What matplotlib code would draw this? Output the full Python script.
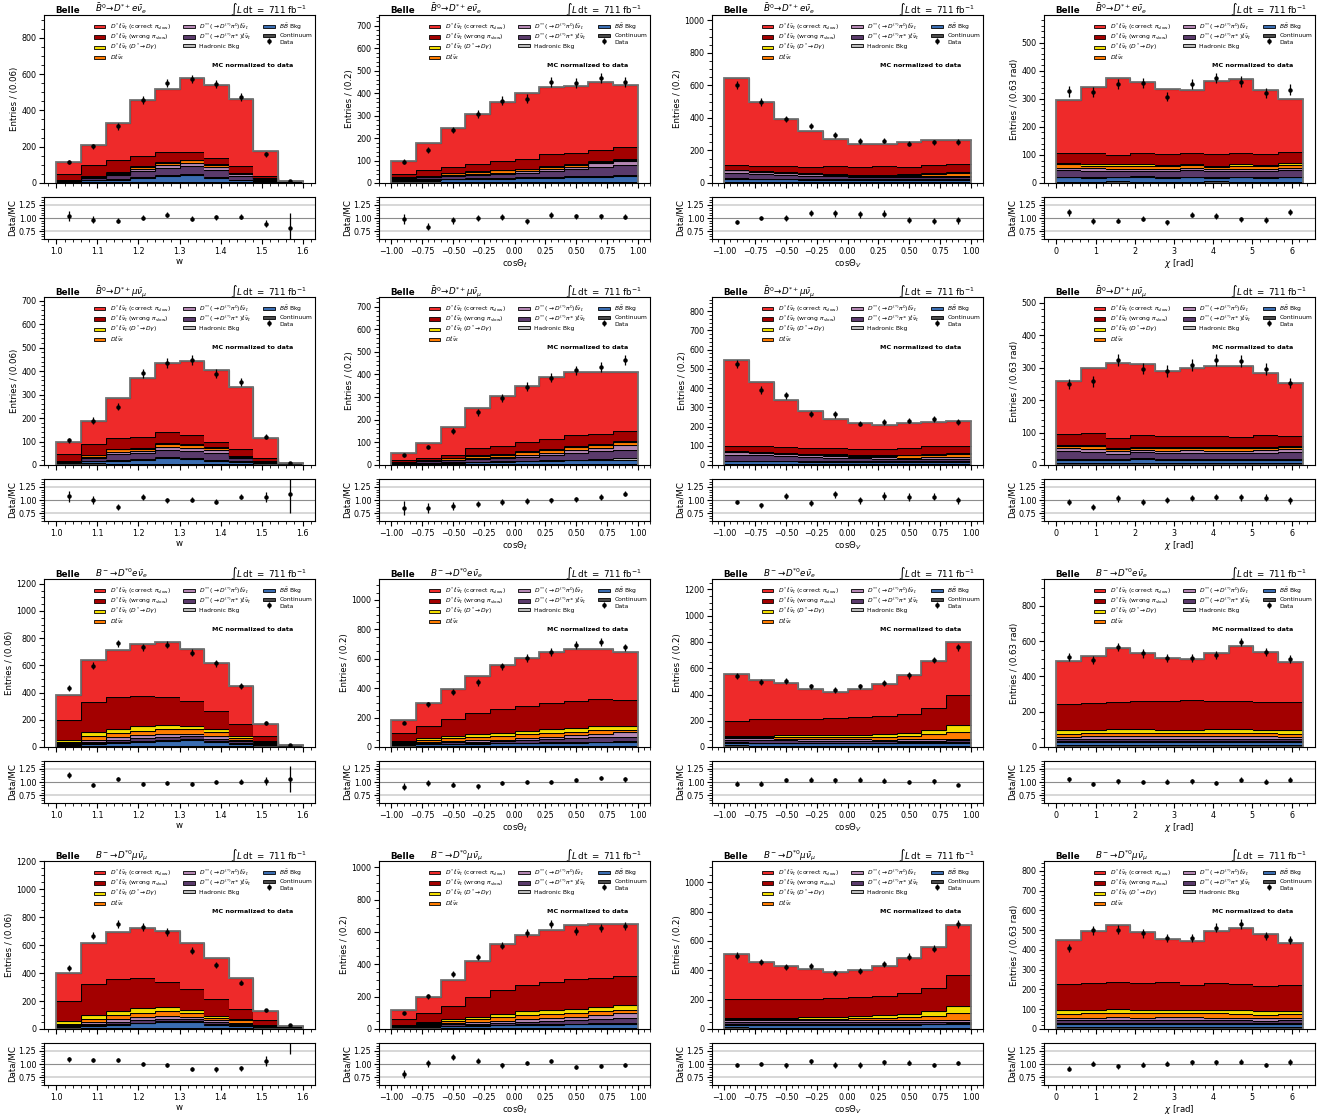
import numpy as np
import matplotlib.pyplot as plt
from matplotlib.patches import Patch, Rectangle
from matplotlib.legend_handler import HandlerPatch
from matplotlib.ticker import AutoMinorLocator, MultipleLocator, FormatStrFormatter

#%% binning of the four kinematic variables
w_edges = np.linspace(1.0, 1.6, 11)
cos_edges = np.linspace(-1.0, 1.0, 11)
chi_edges = np.linspace(0.0, 2 * np.pi, 11)

#%% B0 -> D*+ e nu
b0e_w_data = [118, 203, 312, 456, 550, 572, 545, 473, 157, 9]
b0e_w_corr = [63, 110, 201, 305, 348, 409, 399, 367, 139, 0]
b0e_w_wrong = [32, 59, 68, 58, 53, 42, 33, 38, 9, 0]
b0e_w_dgam = [0, 1, 2, 4, 4, 3, 4, 2, 1, 0]
b0e_w_dlnu = [1, 5, 6, 12, 14, 15, 15, 8, 5, 0]
b0e_w_dss0 = [1, 4, 6, 10, 14, 15, 14, 8, 3, 0]
b0e_w_dssc = [3, 14, 24, 35, 42, 45, 40, 20, 6, 1]
b0e_w_had = [1, 2, 3, 4, 5, 5, 5, 4, 3, 1]
b0e_w_bb = [4, 8, 12, 22, 32, 38, 22, 10, 4, 1]
b0e_w_cont = [8, 6, 6, 5, 5, 6, 5, 5, 6, 8]

b0e_cl_data = [95, 148, 236, 306, 367, 376, 450, 446, 468, 450]
b0e_cl_corr = [59, 119, 174, 221, 259, 293, 297, 298, 305, 276]
b0e_cl_wrong = [13, 26, 28, 33, 42, 46, 54, 50, 47, 54]
b0e_cl_dgam = [0, 1, 2, 2, 2, 2, 3, 4, 5, 4]
b0e_cl_dlnu = [2, 3, 8, 10, 10, 9, 9, 8, 7, 5]
b0e_cl_dss0 = [2, 3, 4, 5, 6, 7, 10, 12, 16, 20]
b0e_cl_dssc = [5, 8, 12, 14, 17, 20, 26, 32, 40, 45]
b0e_cl_had = [2, 2, 3, 3, 3, 3, 3, 3, 4, 4]
b0e_cl_bb = [6, 8, 10, 12, 14, 16, 18, 20, 22, 24]
b0e_cl_cont = [8, 7, 6, 6, 6, 6, 6, 6, 6, 6]

b0e_cv_data = [600, 498, 394, 349, 296, 259, 261, 242, 250, 252]
b0e_cv_corr = [536, 394, 292, 224, 170, 146, 138, 152, 156, 148]
b0e_cv_wrong = [28, 32, 36, 36, 46, 44, 52, 45, 48, 48]
b0e_cv_dgam = [2, 2, 2, 2, 3, 3, 4, 4, 5, 7]
b0e_cv_dlnu = [2, 3, 3, 4, 5, 6, 8, 11, 16, 20]
b0e_cv_dss0 = [14, 12, 11, 10, 8, 7, 6, 6, 6, 6]
b0e_cv_dssc = [34, 28, 24, 20, 17, 14, 12, 12, 12, 12]
b0e_cv_had = [4, 3, 3, 3, 3, 3, 3, 3, 3, 3]
b0e_cv_bb = [18, 17, 16, 15, 14, 13, 13, 13, 14, 14]
b0e_cv_cont = [8, 7, 7, 6, 6, 6, 6, 6, 6, 6]

b0e_chi_data = [326, 324, 353, 356, 308, 353, 374, 361, 321, 333]
b0e_chi_corr = [188, 235, 273, 253, 232, 223, 259, 262, 230, 188]
b0e_chi_wrong = [37, 39, 34, 41, 40, 40, 41, 42, 39, 41]
b0e_chi_dgam = [4, 6, 5, 5, 4, 4, 4, 5, 5, 5]
b0e_chi_dlnu = [11, 10, 10, 10, 9, 9, 9, 10, 9, 10]
b0e_chi_dss0 = [10, 9, 8, 8, 9, 10, 8, 8, 8, 10]
b0e_chi_dssc = [22, 21, 20, 19, 20, 22, 19, 20, 20, 22]
b0e_chi_had = [3, 3, 3, 3, 3, 3, 3, 3, 3, 3]
b0e_chi_bb = [15, 14, 14, 16, 14, 15, 13, 15, 14, 15]
b0e_chi_cont = [5, 5, 6, 5, 5, 5, 6, 5, 5, 5]

#%% B0 -> D*+ mu nu
b0mu_w_data = [106, 189, 249, 390, 433, 447, 389, 353, 120, 10]
b0mu_w_corr = [52, 99, 171, 248, 297, 314, 307, 265, 85, 0]
b0mu_w_wrong = [28, 47, 47, 48, 46, 40, 20, 27, 10, 0]
b0mu_w_dgam = [0, 1, 3, 3, 3, 4, 2, 1, 0, 0]
b0mu_w_dlnu = [1, 6, 9, 9, 12, 12, 12, 4, 2, 0]
b0mu_w_dss0 = [1, 5, 10, 10, 13, 12, 11, 5, 1, 0]
b0mu_w_dssc = [3, 13, 25, 27, 32, 30, 28, 14, 4, 0]
b0mu_w_had = [1, 3, 4, 4, 5, 5, 5, 3, 2, 0]
b0mu_w_bb = [3, 8, 12, 14, 22, 20, 12, 6, 3, 1]
b0mu_w_cont = [10, 7, 6, 6, 6, 6, 6, 6, 7, 8]

b0mu_cl_data = [43, 81, 151, 233, 296, 346, 385, 418, 434, 464]
b0mu_cl_corr = [30, 63, 124, 176, 223, 251, 273, 280, 273, 262]
b0mu_cl_wrong = [6, 13, 16, 32, 36, 40, 43, 48, 45, 46]
b0mu_cl_dgam = [0, 0, 1, 2, 2, 3, 4, 5, 4, 4]
b0mu_cl_dlnu = [1, 2, 5, 10, 11, 12, 13, 14, 12, 11]
b0mu_cl_dss0 = [1, 2, 3, 4, 5, 8, 10, 13, 16, 22]
b0mu_cl_dssc = [3, 5, 8, 12, 14, 18, 24, 30, 34, 38]
b0mu_cl_had = [1, 1, 2, 2, 2, 3, 3, 3, 4, 6]
b0mu_cl_bb = [4, 5, 6, 8, 9, 11, 13, 15, 17, 19]
b0mu_cl_cont = [5, 5, 5, 5, 5, 5, 5, 5, 5, 5]

b0mu_cv_data = [525, 390, 363, 266, 263, 215, 224, 231, 239, 225]
b0mu_cv_corr = [446, 334, 247, 193, 149, 136, 123, 131, 128, 130]
b0mu_cv_wrong = [29, 32, 29, 29, 32, 30, 34, 34, 39, 34]
b0mu_cv_dgam = [2, 2, 2, 2, 2, 2, 3, 4, 5, 5]
b0mu_cv_dlnu = [2, 3, 3, 4, 5, 6, 8, 11, 13, 18]
b0mu_cv_dss0 = [14, 13, 12, 11, 10, 8, 7, 7, 7, 7]
b0mu_cv_dssc = [30, 28, 24, 22, 19, 16, 14, 13, 13, 13]
b0mu_cv_had = [3, 3, 3, 3, 3, 3, 3, 3, 3, 3]
b0mu_cv_bb = [14, 13, 13, 12, 12, 11, 11, 11, 12, 12]
b0mu_cv_cont = [6, 6, 6, 5, 5, 5, 5, 5, 5, 5]

b0mu_chi_data = [250, 258, 323, 297, 290, 309, 324, 321, 296, 252]
b0mu_chi_corr = [164, 201, 231, 219, 200, 210, 217, 219, 191, 163]
b0mu_chi_wrong = [32, 37, 30, 35, 35, 32, 34, 32, 35, 31]
b0mu_chi_dgam = [3, 3, 3, 3, 3, 3, 3, 3, 3, 3]
b0mu_chi_dlnu = [8, 8, 7, 8, 8, 8, 8, 8, 8, 8]
b0mu_chi_dss0 = [10, 9, 8, 7, 7, 8, 7, 7, 8, 8]
b0mu_chi_dssc = [22, 21, 18, 17, 18, 19, 19, 19, 20, 20]
b0mu_chi_had = [4, 4, 3, 3, 3, 3, 3, 3, 3, 4]
b0mu_chi_bb = [10, 10, 9, 14, 11, 10, 10, 10, 10, 10]
b0mu_chi_cont = [6, 6, 5, 5, 5, 5, 5, 5, 5, 6]

#%% B- -> D*0 e nu
bme_w_data = [432, 597, 762, 733, 752, 692, 616, 451, 175, 18]
bme_w_corr = [182, 308, 352, 386, 405, 386, 349, 277, 94, 0]
bme_w_wrong = [146, 219, 230, 221, 204, 184, 136, 92, 37, 0]
bme_w_dgam = [18, 28, 30, 32, 30, 23, 20, 12, 4, 0]
bme_w_dlnu = [8, 27, 33, 35, 38, 32, 30, 17, 8, 0]
bme_w_dss0 = [3, 14, 18, 22, 22, 20, 17, 10, 4, 1]
bme_w_dssc = [6, 14, 18, 20, 22, 22, 18, 12, 5, 1]
bme_w_had = [3, 4, 5, 6, 6, 6, 6, 5, 3, 1]
bme_w_bb = [5, 12, 20, 28, 35, 40, 28, 14, 5, 2]
bme_w_cont = [10, 10, 10, 10, 10, 10, 10, 10, 12, 12]

bme_cl_data = [166, 291, 375, 439, 550, 605, 645, 693, 714, 677]
bme_cl_corr = [89, 153, 202, 250, 300, 330, 346, 354, 339, 325]
bme_cl_wrong = [51, 84, 116, 139, 163, 168, 179, 182, 182, 177]
bme_cl_dgam = [6, 13, 17, 20, 20, 23, 26, 28, 30, 25]
bme_cl_dlnu = [6, 16, 22, 26, 27, 27, 27, 24, 22, 18]
bme_cl_dss0 = [2, 4, 6, 8, 10, 13, 18, 22, 26, 30]
bme_cl_dssc = [4, 6, 9, 12, 14, 16, 20, 24, 28, 30]
bme_cl_had = [2, 2, 3, 3, 3, 4, 4, 4, 5, 6]
bme_cl_bb = [8, 10, 12, 14, 16, 18, 20, 22, 24, 26]
bme_cl_cont = [14, 10, 8, 8, 8, 8, 8, 8, 8, 8]

bme_cv_data = [538, 495, 506, 462, 435, 462, 490, 545, 662, 760]
bme_cv_corr = [355, 300, 272, 229, 202, 219, 245, 290, 355, 400]
bme_cv_wrong = [115, 125, 127, 125, 128, 130, 135, 145, 170, 235]
bme_cv_dgam = [9, 11, 14, 16, 18, 20, 23, 26, 34, 52]
bme_cv_dlnu = [6, 8, 10, 12, 14, 16, 20, 26, 35, 50]
bme_cv_dss0 = [16, 15, 14, 13, 12, 12, 11, 11, 12, 12]
bme_cv_dssc = [18, 17, 16, 15, 14, 13, 12, 12, 12, 12]
bme_cv_had = [4, 4, 4, 4, 4, 4, 4, 4, 5, 5]
bme_cv_bb = [20, 20, 20, 20, 20, 20, 20, 21, 22, 24]
bme_cv_cont = [12, 10, 10, 10, 10, 10, 10, 10, 10, 10]

bme_chi_data = [510, 495, 565, 530, 505, 505, 520, 595, 540, 500]
bme_chi_corr = [241, 264, 304, 271, 241, 232, 269, 310, 281, 225]
bme_chi_wrong = [150, 152, 155, 160, 164, 167, 162, 160, 157, 160]
bme_chi_dgam = [19, 19, 19, 19, 19, 19, 19, 19, 19, 19]
bme_chi_dlnu = [17, 18, 19, 19, 18, 18, 19, 19, 18, 17]
bme_chi_dss0 = [13, 14, 14, 14, 14, 14, 14, 14, 14, 13]
bme_chi_dssc = [14, 15, 15, 15, 15, 15, 15, 15, 15, 14]
bme_chi_had = [4, 4, 4, 4, 4, 4, 4, 4, 4, 4]
bme_chi_bb = [18, 18, 19, 19, 18, 18, 19, 19, 18, 18]
bme_chi_cont = [10, 10, 10, 10, 10, 10, 10, 10, 10, 10]

#%% B- -> D*0 mu nu
bmmu_w_data = [436, 669, 752, 729, 695, 562, 460, 333, 133, 28]
bmmu_w_corr = [200, 300, 340, 364, 365, 329, 298, 219, 59, 0]
bmmu_w_wrong = [140, 217, 224, 210, 182, 157, 119, 73, 35, 0]
bmmu_w_dgam = [22, 30, 32, 34, 30, 20, 14, 8, 1, 0]
bmmu_w_dlnu = [8, 22, 30, 32, 32, 25, 20, 16, 4, 0]
bmmu_w_dss0 = [3, 12, 18, 22, 22, 18, 12, 10, 3, 1]
bmmu_w_dssc = [6, 12, 16, 18, 18, 16, 12, 10, 4, 1]
bmmu_w_had = [3, 4, 5, 6, 6, 6, 5, 4, 3, 1]
bmmu_w_bb = [6, 12, 20, 30, 40, 38, 22, 12, 5, 2]
bmmu_w_cont = [12, 10, 10, 10, 10, 10, 10, 10, 12, 14]

bmmu_cl_data = [97, 202, 342, 445, 515, 594, 647, 604, 623, 635]
bmmu_cl_corr = [56, 101, 159, 221, 287, 309, 321, 334, 334, 319]
bmmu_cl_wrong = [37, 58, 82, 124, 146, 161, 173, 181, 177, 182]
bmmu_cl_dgam = [1, 5, 11, 14, 20, 24, 25, 26, 29, 29]
bmmu_cl_dlnu = [2, 8, 16, 19, 24, 26, 25, 24, 23, 22]
bmmu_cl_dss0 = [1, 3, 6, 8, 12, 16, 18, 20, 24, 28]
bmmu_cl_dssc = [2, 5, 8, 10, 14, 17, 20, 23, 26, 29]
bmmu_cl_had = [1, 2, 2, 3, 3, 4, 4, 5, 6, 8]
bmmu_cl_bb = [6, 8, 10, 12, 14, 16, 18, 20, 22, 24]
bmmu_cl_cont = [14, 10, 9, 8, 8, 8, 8, 8, 8, 8]

bmmu_cv_data = [500, 456, 420, 428, 380, 393, 442, 493, 547, 715]
bmmu_cv_corr = [305, 251, 224, 203, 178, 186, 204, 238, 278, 337]
bmmu_cv_wrong = [130, 130, 127, 125, 128, 127, 130, 140, 158, 215]
bmmu_cv_dgam = [6, 7, 9, 10, 12, 14, 19, 24, 32, 49]
bmmu_cv_dlnu = [5, 6, 8, 10, 11, 14, 18, 22, 29, 42]
bmmu_cv_dss0 = [14, 14, 14, 13, 13, 13, 12, 12, 12, 13]
bmmu_cv_dssc = [16, 16, 15, 15, 14, 14, 13, 13, 13, 13]
bmmu_cv_had = [4, 4, 4, 4, 4, 4, 4, 4, 5, 6]
bmmu_cv_bb = [18, 18, 18, 18, 18, 19, 19, 20, 21, 22]
bmmu_cv_cont = [12, 10, 10, 10, 10, 10, 10, 10, 10, 10]

bmmu_chi_data = [409, 500, 503, 484, 460, 460, 512, 531, 471, 450]
bmmu_chi_corr = [224, 265, 288, 258, 217, 223, 262, 282, 262, 211]
bmmu_chi_wrong = [131, 136, 138, 136, 142, 126, 136, 133, 129, 129]
bmmu_chi_dgam = [18, 18, 18, 18, 18, 18, 18, 18, 17, 17]
bmmu_chi_dlnu = [19, 21, 21, 21, 21, 21, 21, 19, 18, 18]
bmmu_chi_dss0 = [14, 14, 15, 14, 14, 14, 14, 14, 13, 14]
bmmu_chi_dssc = [14, 14, 15, 14, 15, 15, 14, 14, 13, 14]
bmmu_chi_had = [4, 4, 4, 4, 4, 4, 4, 4, 4, 4]
bmmu_chi_bb = [18, 18, 19, 18, 18, 18, 18, 18, 17, 18]
bmmu_chi_cont = [8, 8, 8, 8, 8, 8, 8, 8, 8, 8]

#%% labels / styles
channels = ['b0e', 'b0mu', 'bme', 'bmmu']
channel_titles = [r'$\bar{B}^0\!\to\! D^{*+}e\bar{\nu}_e$',
                  r'$\bar{B}^0\!\to\! D^{*+}\mu\bar{\nu}_\mu$',
                  r'$B^-\!\to\! D^{*0}e\bar{\nu}_e$',
                  r'$B^-\!\to\! D^{*0}\mu\bar{\nu}_\mu$']
variables = ['w', 'cl', 'cv', 'chi']
var_edges = [w_edges, cos_edges, cos_edges, chi_edges]
var_xlabels = ['w', r'cos$\Theta_\ell$', r'cos$\Theta_V$', r'$\chi$ [rad]']
var_ylabels = ['Entries / (0.06)', 'Entries / (0.2)', 'Entries / (0.2)', 'Entries / (0.63 rad)']
var_major = [0.1, 0.25, 0.25, 1.0]

# stacking order, bottom -> top
comp_keys = ['cont', 'bb', 'had', 'dssc', 'dss0', 'dlnu', 'dgam', 'wrong', 'corr']
comp_colors = {'corr': '#ee2a2a', 'wrong': '#a30000', 'dgam': '#f2dd00', 'dlnu': '#ff7c00',
               'dss0': '#b487b3', 'dssc': '#5a3a6b', 'had': '#bcbcbc', 'bb': '#3a6db2',
               'cont': '#4a4a4a'}
comp_labels = {'corr': r'$D^*\ell\bar{\nu}_\ell$ (correct $\pi_{\mathrm{slow}}$)',
               'wrong': r'$D^*\ell\bar{\nu}_\ell$ (wrong $\pi_{\mathrm{slow}}$)',
               'dgam': r'$D^*\ell\bar{\nu}_\ell$ ($D^*\!\to\! D\gamma$)',
               'dlnu': r'$D\ell\bar{\nu}_\ell$',
               'dss0': r'$D^{**}(\to D^{(*)}\pi^0)\ell\bar{\nu}_\ell$',
               'dssc': r'$D^{**}(\to D^{(*)}\pi^\pm)\ell\bar{\nu}_\ell$',
               'had': 'Hadronic Bkg',
               'bb': r'$B\bar{B}$ Bkg',
               'cont': 'Continuum'}
legend_order = ['corr', 'wrong', 'dgam', 'dlnu', 'dss0', 'dssc', 'had', 'bb', 'cont']


def small_box(legend, orig_handle, xdescent, ydescent, width, height, fontsize):
    # flat legend box inside a taller row, so every row gets the same pitch
    return Rectangle((-xdescent, -ydescent + 0.27 * height), width, 0.48 * height)


handler_map = {Patch: HandlerPatch(patch_func=small_box)}

W, H = 1335, 1114
fig = plt.figure(figsize=(W / 100, H / 100), dpi=100)
col_left = [44, 379, 712, 1044]
ax_width = 271

g = globals()
for r, ch in enumerate(channels):
    for c, var in enumerate(variables):
        edges = var_edges[c]
        top = 15 + 282 * r
        ax = fig.add_axes([col_left[c] / W, 1 - (top + 168) / H, ax_width / W, 168 / H])
        rax = fig.add_axes([col_left[c] / W, 1 - (top + 224) / H, ax_width / W, 42 / H], sharex=ax)

        data = np.array(g[ch + '_' + var + '_data'], dtype=float)
        bottom = np.zeros(10)
        for key in comp_keys:
            vals = np.array(g[ch + '_' + var + '_' + key], dtype=float)
            ax.stairs(bottom + vals, edges, baseline=bottom, fill=True,
                      color=comp_colors[key], lw=0)
            bottom = bottom + vals
            ax.stairs(bottom, edges, baseline=None, color='k', lw=0.8)
        total = bottom
        ax.stairs(total, edges, baseline=0, color='0.45', lw=1.3)

        centers = 0.5 * (edges[1:] + edges[:-1])
        derr = np.sqrt(data)
        hdata = ax.errorbar(centers, data, yerr=derr, fmt='o', color='k', ms=2.2,
                            elinewidth=0.9, capsize=0)

        ax.set_ylim(0, 1.6 * max(data.max(), total.max()))
        rng = edges[-1] - edges[0]
        ax.set_xlim(edges[0] - 0.05 * rng, edges[-1] + 0.05 * rng)
        ax.set_ylabel(var_ylabels[c], fontsize=6.2, labelpad=1.5)
        ax.xaxis.set_major_locator(MultipleLocator(var_major[c]))
        ax.xaxis.set_minor_locator(AutoMinorLocator())
        ax.yaxis.set_minor_locator(AutoMinorLocator())
        ax.tick_params(which='both', direction='out', labelsize=5.8, labelbottom=False, pad=2)
        ax.tick_params(which='major', length=3.5, width=0.8)
        ax.tick_params(which='minor', length=2, width=0.6)

        # header
        ax.text(0.04, 1.012, 'Belle', fontsize=6.3, weight='bold', transform=ax.transAxes,
                va='baseline')
        ax.text(0.19, 1.012, channel_titles[r], fontsize=6.3, transform=ax.transAxes,
                va='baseline')
        ax.text(0.97, 1.012, r'$\int L\,\mathrm{dt}\ =\ 711\ \mathrm{fb}^{-1}$', fontsize=6.3,
                transform=ax.transAxes, va='baseline', ha='right')
        ax.text(0.77, 0.70, 'MC normalized to data', fontsize=4.6, weight='bold',
                transform=ax.transAxes, ha='center', va='center')

        handles = [Patch(facecolor=comp_colors[k], edgecolor='k', lw=0.6) for k in legend_order]
        labels = [comp_labels[k] for k in legend_order]
        handles.append(hdata)
        labels.append('Data')
        ax.legend(handles, labels, ncol=3, fontsize=4.3, frameon=False, loc='upper left',
                  bbox_to_anchor=(0.185, 0.96), borderaxespad=0, borderpad=0,
                  handlelength=1.9, handleheight=1.35, handletextpad=0.8,
                  columnspacing=2.0, labelspacing=0.0, handler_map=handler_map)

        # ratio panel
        ratio = data / total
        rerr = derr / total
        rax.axhline(1.0, color='0.55', lw=0.8)
        rax.axhline(0.75, color='0.82', lw=1.2)
        rax.axhline(1.25, color='0.82', lw=1.2)
        rax.errorbar(centers, ratio, yerr=rerr, fmt='o', color='k', ms=2.2,
                     elinewidth=0.9, capsize=0)
        rax.set_ylim(0.6, 1.4)
        rax.set_yticks([0.75, 1.0, 1.25])
        rax.yaxis.set_major_formatter(FormatStrFormatter('%.2f'))
        rax.yaxis.set_minor_locator(AutoMinorLocator())
        rax.set_ylabel('Data/MC', fontsize=6.2, labelpad=1.5)
        rax.set_xlabel(var_xlabels[c], fontsize=6.2, labelpad=1)
        rax.tick_params(which='both', direction='out', labelsize=5.8, pad=2)
        rax.tick_params(which='major', length=3.5, width=0.8)
        rax.tick_params(which='minor', length=2, width=0.6)

plt.savefig('out.png', dpi=100)
